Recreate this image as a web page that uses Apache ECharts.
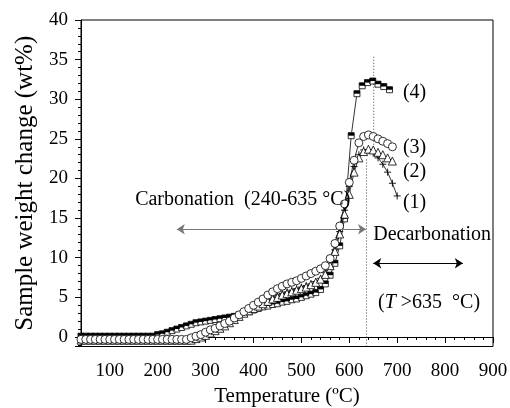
<!DOCTYPE html>
<html><head><meta charset="utf-8">
<script src="https://cdn.jsdelivr.net/npm/echarts@6/dist/echarts.min.js"></script>
<style>html,body{margin:0;padding:0;background:#fff}#c{width:510px;height:408px}</style>
</head><body><div id="c"></div>
<script>
const FONT = 'Liberation Serif';

// Series (4): filled squares
const tSquares = [40,50,60,70,80,90,100,110,120,130,140,150,160,170,180,190,
  200,210,220,230,240,250,260,270,280,290,300,310,320,330,340,350,360,370,380,390,
  400,410,420,430,440,450,460,470,480,490,500,510,520,530,540,550,560,570,580,590,
  604,616,627,638,649,660,672,684];
const vSquares = [0.1,0.1,0.1,0.1,0.1,0.1,0.1,0.1,0.1,0.1,0.1,0.1,0.1,0.1,0.1,0.1,
  0.3,0.4,0.6,0.8,1.0,1.2,1.4,1.6,1.8,1.9,2.0,2.1,2.2,2.3,2.4,2.5,2.6,2.8,3.0,3.2,
  3.4,3.6,3.8,3.9,4.1,4.2,4.4,4.5,4.7,4.8,5.0,5.2,5.4,5.6,6.0,6.7,7.8,9.3,11.5,14.9,
  25.4,30.7,31.7,32.1,32.3,31.9,31.6,31.2];

// Series (3): open circles and (2): open triangles share temperatures
const tRun = [40,50,60,70,80,90,100,110,120,130,140,150,160,170,180,190,
  200,210,220,230,240,250,260,270,280,290,300,310,320,330,340,350,360,370,380,390,
  400,410,420,430,440,450,460,470,480,490,500,510,520,530,540,550,560,570,580,590,
  600,610,620,630,640,650,660,670,680,690];
const vCircles = [-0.3,-0.3,-0.3,-0.3,-0.3,-0.3,-0.3,-0.3,-0.3,-0.3,-0.3,-0.3,-0.3,-0.3,-0.3,-0.3,
  -0.3,-0.3,-0.3,-0.3,-0.3,-0.3,-0.3,-0.1,0.1,0.3,0.6,0.9,1.1,1.4,1.7,2.0,2.4,2.8,3.2,3.6,
  4.0,4.4,4.8,5.3,5.7,6.1,6.4,6.7,6.9,7.1,7.4,7.7,8.0,8.3,8.6,9.0,9.9,11.8,14.0,16.8,
  19.5,22.3,24.5,25.3,25.5,25.3,25.0,24.7,24.4,24.0];
const vTriangles = [-0.4,-0.4,-0.4,-0.4,-0.4,-0.4,-0.4,-0.4,-0.4,-0.4,-0.4,-0.4,-0.4,-0.4,-0.4,-0.4,
  -0.4,-0.4,-0.4,-0.4,-0.4,-0.4,-0.4,-0.4,-0.2,0.0,0.2,0.5,0.8,1.1,1.4,1.8,2.2,2.6,3.0,3.3,
  3.6,3.9,4.2,4.5,4.8,5.0,5.3,5.5,5.7,5.9,6.1,6.3,6.6,6.9,7.3,7.9,9.0,10.8,13.0,15.5,
  18.0,20.8,22.6,23.4,23.7,23.6,23.3,23.0,22.6,22.2];

// Series (1): crosses
const tCross = [40,50,60,70,80,90,100,110,120,130,140,150,160,170,180,190,
  200,210,220,230,240,250,260,270,280,290,300,310,320,330,340,350,360,370,380,390,
  400,410,420,430,440,450,460,470,480,490,500,510,520,530,540,550,560,570,580,590,
  600,610,620,630,640,650,660,670,680,690,700];
const vCross = [-0.4,-0.4,-0.4,-0.4,-0.4,-0.4,-0.4,-0.4,-0.4,-0.4,-0.4,-0.4,-0.4,-0.4,-0.4,-0.4,
  -0.4,-0.4,-0.4,-0.4,-0.4,-0.4,-0.4,-0.4,-0.2,0.1,0.3,0.6,0.9,1.2,1.5,1.9,2.3,2.7,3.1,3.4,
  3.8,4.1,4.4,4.7,5.0,5.3,5.5,5.7,5.9,6.1,6.3,6.5,6.7,7.0,7.4,8.1,9.2,11.0,13.3,16.0,
  19.0,21.5,23.0,23.6,23.6,23.2,22.6,21.8,20.8,19.4,17.8];

// Annotations: [text, T, value]
const curveLabels = [['(4)',712,30.8],['(3)',712,23.9],['(2)',712,20.9],['(1)',712,16.9]];
const notes = [['Carbonation  (240-635 °C)',153,17.3],['Decarbonation',650,12.9],['({i|T} >635  °C)',660,4.3]];
const carbArrow = [[240,13.6],[635,13.6]];
const decarbArrow = [[650,9.3],[837,9.3]];
const dotLow = [[636,-1.2],[636,22.5]];
const dotHigh = [[651,23.5],[651,35.6]];

const pair = (ts, vs) => ts.map((t,i)=>[t, vs[i]]);
const crossPath = 'path://M0,5L10,5M5,0L5,10';

const chart = echarts.init(document.getElementById('c'), null, {renderer:'canvas'});
const lineThin = {color:'#000', width:0.8};
const labelSeries = (items, size) => ({
  type:'scatter', symbolSize:0, silent:true, z:10,
  itemStyle:{color:'#000'},
  data: items.map(d=>({value:[d[1],d[2]], name:d[0]})),
  label:{show:true, position:[0,0], align:'left', verticalAlign:'middle',
    formatter:p=>p.name, fontFamily:FONT, fontSize:size, color:'#000', opacity:1,
    textBorderWidth:0, textShadowBlur:0,
    rich:{i:{fontStyle:'italic', fontFamily:FONT, fontSize:size, color:'#000', textBorderWidth:0}}}
});

chart.setOption({
  animation:false,
  backgroundColor:'#fff',
  grid:{left:81, right:17, top:20, bottom:61.5, show:true, borderColor:'#000', borderWidth:1,
    outerBoundsMode:'none', containLabel:false},
  xAxis:{type:'value', min:40, max:900, splitNumber:9,
    axisLine:{show:true, lineStyle:{color:'#000', width:1}},
    axisTick:{show:true, length:6, lineStyle:{color:'#000', width:1}},
    minorTick:{show:true, splitNumber:5, length:3, lineStyle:{color:'#000', width:1}},
    splitLine:{show:false},
    axisLabel:{showMinLabel:false, fontFamily:FONT, fontSize:19, color:'#000', margin:15},
    name:'Temperature (ºC)', nameLocation:'middle', nameGap:39,
    nameTextStyle:{fontFamily:FONT, fontSize:21, color:'#000'}},
  yAxis:{type:'value', min:-1.2, max:40, splitNumber:8,
    axisLine:{show:true, lineStyle:{color:'#000', width:1}},
    axisTick:{show:true, length:6, lineStyle:{color:'#000', width:1}},
    minorTick:{show:true, splitNumber:5, length:3, lineStyle:{color:'#000', width:1}},
    splitLine:{show:false},
    axisLabel:{showMinLabel:false, fontFamily:FONT, fontSize:19, color:'#000', margin:13},
    name:'Sample weight change (wt%)', nameLocation:'middle', nameGap:42,
    nameTextStyle:{fontFamily:FONT, fontSize:25, color:'#000'}},
  series:[
    {type:'line', data:dotLow, symbol:'none', lineStyle:{color:'#444', width:1, type:[1,2]}, z:1},
    {type:'line', data:dotHigh, symbol:'none', lineStyle:{color:'#444', width:1, type:[1,2]}, z:1},
    {type:'line', data:pair(tSquares,vSquares), symbol:'rect', symbolSize:6,
      itemStyle:{color:'#fff', borderColor:'#000', borderWidth:0.8}, lineStyle:lineThin, z:2},
    {type:'line', data:pair(tSquares,vSquares), symbol:'rect', symbolSize:[6,3], symbolOffset:[0,-1.5],
      itemStyle:{color:'#000', borderWidth:0}, lineStyle:{width:0, opacity:0}, z:3},
    {type:'line', data:pair(tCross,vCross), symbol:crossPath, symbolSize:7, symbolKeepAspect:true,
      itemStyle:{color:'#000', borderColor:'#000', borderWidth:0.9}, lineStyle:lineThin, z:4},
    {type:'line', data:pair(tRun,vTriangles), symbol:'triangle', symbolSize:8,
      itemStyle:{color:'#fff', borderColor:'#000', borderWidth:0.8}, lineStyle:lineThin, z:5},
    {type:'line', data:pair(tRun,vCircles), symbol:'circle', symbolSize:8,
      itemStyle:{color:'#fff', borderColor:'#000', borderWidth:0.8}, lineStyle:lineThin, z:6},
    {type:'lines', coordinateSystem:'cartesian2d', silent:true, z:7,
      symbol:['arrow','arrow'], symbolSize:8,
      lineStyle:{color:'#777', width:1, opacity:1},
      data:[{coords:carbArrow}]},
    {type:'lines', coordinateSystem:'cartesian2d', silent:true, z:7,
      symbol:['arrow','arrow'], symbolSize:8,
      lineStyle:{color:'#000', width:1, opacity:1},
      data:[{coords:decarbArrow}]},
    labelSeries(curveLabels, 20),
    labelSeries(notes, 20)
  ]
});
</script>
</body></html>
